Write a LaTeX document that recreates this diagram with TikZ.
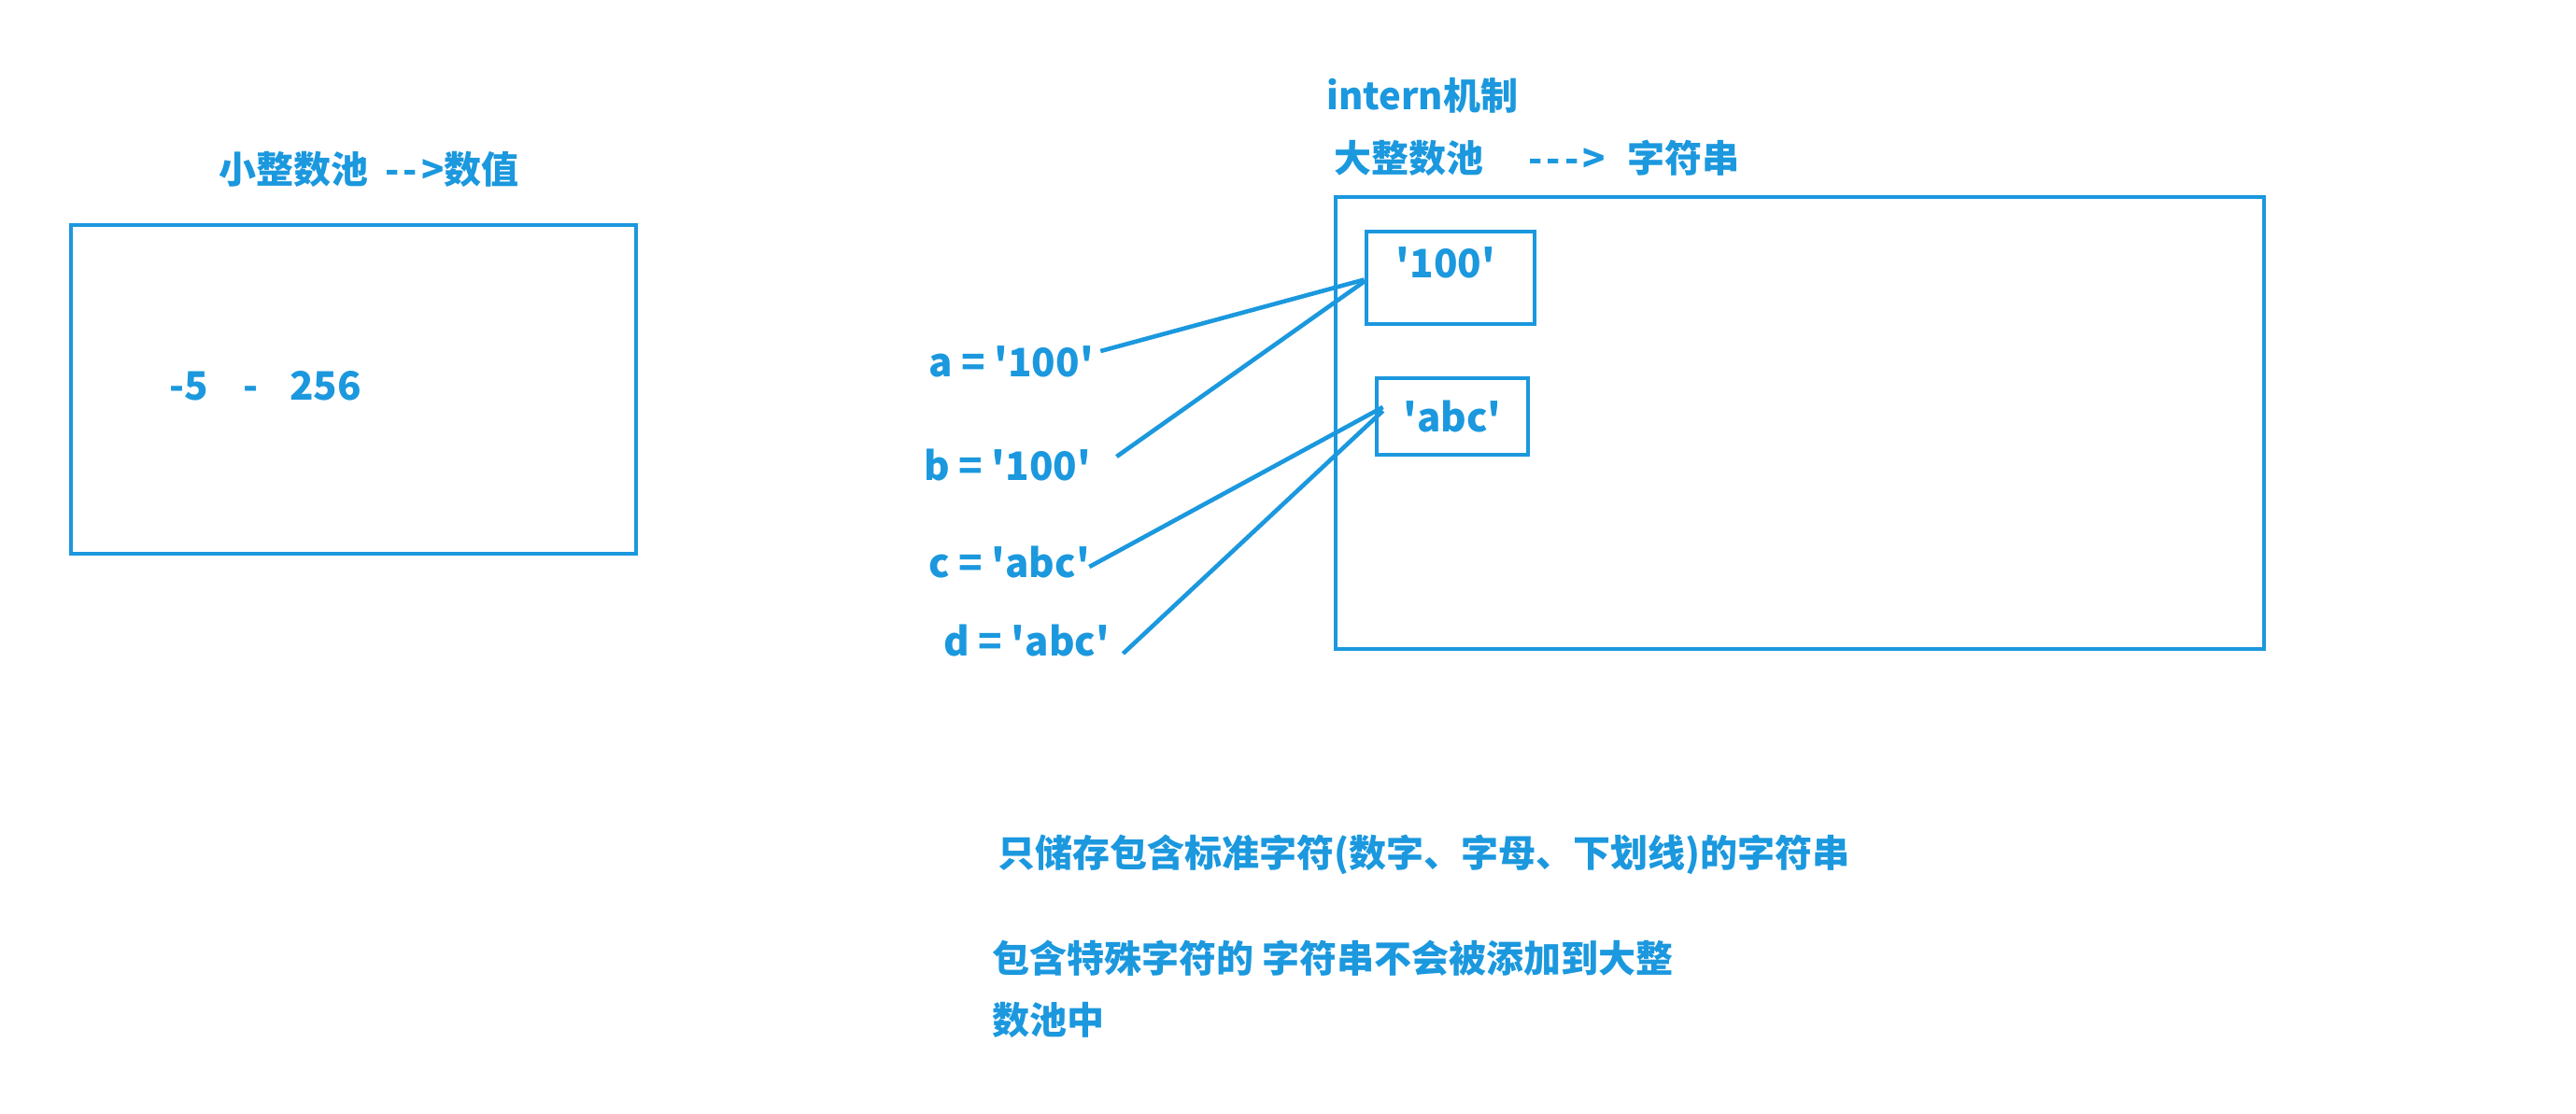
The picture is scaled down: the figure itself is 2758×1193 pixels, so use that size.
\documentclass[tikz,border=0pt]{standalone}
\usepackage{fontspec}
\newfontfamily\cjk{Noto Sans CJK SC}[Ligatures=TeXOff]
\definecolor{pen}{RGB}{27,152,222}
\begin{document}
\begin{tikzpicture}[x=0.5pt,y=-0.5pt,
  frame/.style={draw=pen, line width=2.4pt, inner sep=0pt},
  head/.style={text=pen, font=\cjk\bfseries\fontsize{20}{24}\selectfont, anchor=west, inner sep=0pt},
  code/.style={text=pen, font=\cjk\bfseries\fontsize{21}{26}\selectfont, anchor=west, inner sep=0pt},
  link/.style={draw=pen, line width=2.3pt}]
\fill[white] (0,0) rectangle (2758,1193);
\path[use as bounding box] (0,0) rectangle (2758,1193);

% left pool
\node[head] (smalltitle) at (234,181) {小整数池\hspace{9pt}-\kern2pt-\kern2pt>数值};
\node[frame, minimum width=302.5pt, minimum height=176pt] (smallpool) at (378.5,417) {};
\node[code] (range) at (181,413) {-5\hspace{18.5pt}-\hspace{17pt}256};

% right pool
\node[head] (intern) at (1420,102) {intern机制};
\node[head] (bigtitle) at (1428,169) {大整数池\hspace{24pt}-\kern2pt-\kern2pt-\kern2pt>\hspace{12pt}字符串};
\node[frame, minimum width=497pt, minimum height=242pt] (bigpool) at (1927,453) {};
\node[frame, minimum width=90pt, minimum height=49.5pt] (s100) at (1553,297.5) {};
\node[code, anchor=center] (t100) at (1548,281) {'100'};
\node[frame, minimum width=81pt, minimum height=41pt, text=pen, font=\cjk\bfseries\fontsize{21}{26}\selectfont] (sabc) at (1555,446) {'abc'};

% variables
\node[code] (a) at (994,387) {a = '100'};
\node[code] (b) at (989,498) {b = '100'};
\node[code] (c) at (994,602) {c = 'abc'};
\node[code] (d) at (1010,686) {d = 'abc'};

\draw[link] ([shift={(7,-11)}]a.east) -- ([shift={(0,2)}]s100.west);
\draw[link] ([shift={(27,-9)}]b.east) -- ([shift={(0,4)}]s100.west);
\draw[link] ([shift={(-1,5)}]c.east) -- ([shift={(9,-10)}]sabc.west);
\draw[link] ([shift={(14,14)}]d.east) -- ([shift={(9,-6)}]sabc.west);

% notes
\node[head] (note1) at (1068,915) {只储存包含标准字符(数字、字母、下划线)的字符串};
\node[head] (note2) at (1062,1026) {包含特殊字符的 字符串不会被添加到大整};
\node[head] (note3) at (1062,1092) {数池中};
\end{tikzpicture}
\end{document}
